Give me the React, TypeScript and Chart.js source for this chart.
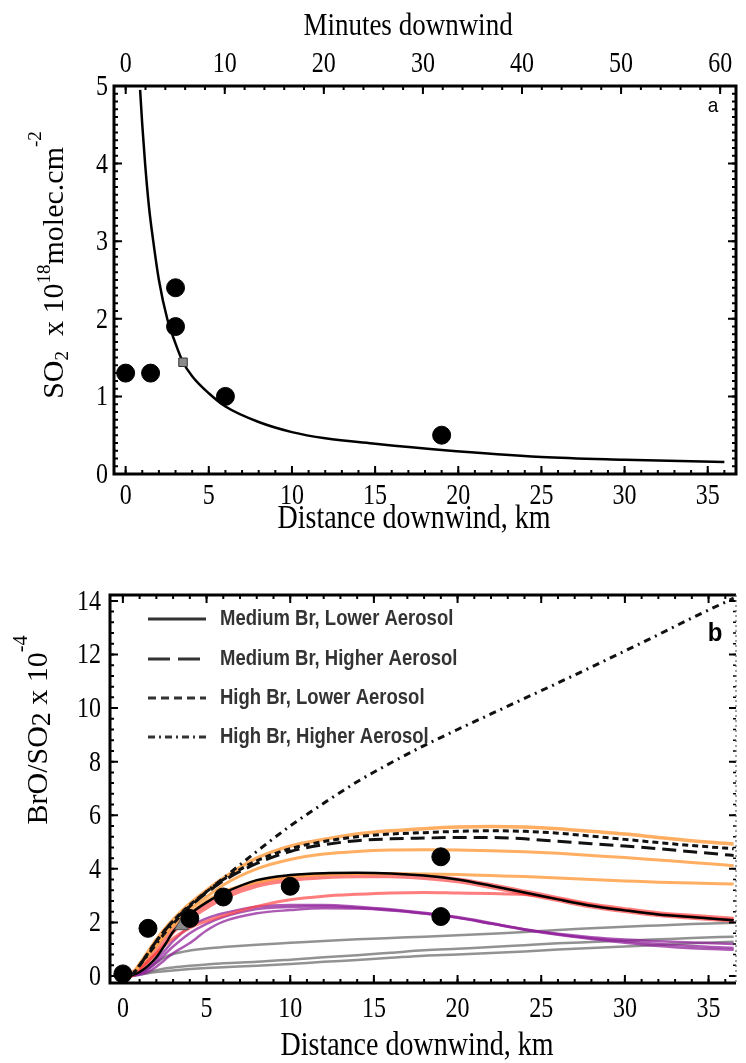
import React, { useEffect, useRef } from "react";
import { Chart, registerables } from "chart.js";

Chart.register(...registerables);

// ================= Panel a data =================
const minutesTicks = [0, 10, 20, 30, 40, 50, 60];
const kmTicks = [0, 5, 10, 15, 20, 25, 30, 35];
const so2Ticks = [0, 1, 2, 3, 4, 5];
const so2ObsKm = [0, 1.5, 3, 3, 6, 19];
const so2ObsVal = [1.3, 1.3, 2.4, 1.9, 1.0, 0.5];
const so2RefKm = [3.45];
const so2RefVal = [1.44];
const so2FitKm = [0.87, 1.0, 1.17, 1.4, 1.66, 2.0, 2.5, 3.0, 3.45, 4, 5, 6, 8, 10, 12, 15, 19, 25, 30, 36];
const so2FitVal = [4.95, 4.5, 4.0, 3.45, 3.0, 2.5, 2.0, 1.68, 1.44, 1.26, 1.04, 0.87, 0.67, 0.54, 0.46, 0.39, 0.31, 0.22, 0.185, 0.155];

// ================= Panel b data =================
const broTicks = [0, 2, 4, 6, 8, 10, 12, 14];
const modelKm = [0, 0.5, 1, 1.5, 2, 2.5, 3, 4, 5, 6, 8, 10, 12, 14, 16, 18, 20, 22, 24, 26, 28, 30, 32, 34, 36.5];
const highBrHighAer = [0, 0.05, 0.4, 0.8, 1.2, 1.6, 1.95, 2.6, 3.15, 3.65, 4.65, 5.6, 6.45, 7.25, 7.95, 8.6, 9.2, 9.78, 10.36, 10.94, 11.53, 12.13, 12.74, 13.36, 14.1];
const highBrLowAer = [0, 0.04, 0.4, 0.85, 1.3, 1.7, 2.05, 2.65, 3.15, 3.6, 4.3, 4.75, 5.02, 5.2, 5.3, 5.35, 5.4, 5.42, 5.4, 5.33, 5.22, 5.1, 4.98, 4.87, 4.75];
const medBrHighAer = [0, 0.04, 0.4, 0.85, 1.3, 1.7, 2.05, 2.6, 3.1, 3.55, 4.2, 4.65, 4.9, 5.05, 5.12, 5.15, 5.17, 5.17, 5.12, 5.03, 4.94, 4.85, 4.75, 4.64, 4.5];
const medBrLowAer = [0, 0.02, 0.15, 0.38, 0.7, 1.15, 1.65, 2.3, 2.75, 3.09, 3.58, 3.77, 3.84, 3.85, 3.83, 3.75, 3.6, 3.37, 3.12, 2.86, 2.62, 2.45, 2.3, 2.2, 2.08];
const orange1 = [0, 0.05, 0.45, 0.9, 1.35, 1.75, 2.1, 2.7, 3.2, 3.65, 4.4, 4.85, 5.1, 5.3, 5.42, 5.5, 5.56, 5.58, 5.56, 5.5, 5.4, 5.3, 5.17, 5.05, 4.93];
const orange2 = [0, 0.04, 0.4, 0.8, 1.2, 1.6, 1.95, 2.5, 2.95, 3.4, 4.0, 4.35, 4.55, 4.65, 4.7, 4.71, 4.7, 4.68, 4.64, 4.58, 4.5, 4.42, 4.33, 4.24, 4.12];
const orange3 = [0, 0.04, 0.38, 0.75, 1.1, 1.5, 1.85, 2.35, 2.8, 3.15, 3.5, 3.7, 3.78, 3.82, 3.82, 3.81, 3.79, 3.75, 3.71, 3.66, 3.6, 3.55, 3.5, 3.47, 3.43];
const red1 = [0, 0.05, 0.3, 0.6, 0.95, 1.35, 1.7, 2.2, 2.6, 2.95, 3.4, 3.62, 3.72, 3.76, 3.76, 3.7, 3.57, 3.36, 3.12, 2.87, 2.63, 2.46, 2.31, 2.21, 2.1];
const red2 = [0, 0.03, 0.25, 0.55, 0.85, 1.15, 1.4, 1.8, 2.05, 2.25, 2.6, 2.85, 2.98, 3.05, 3.1, 3.12, 3.1, 3.08, 3.04, 2.88, 2.64, 2.46, 2.31, 2.21, 2.09];
const purple1 = [0, 0.01, 0.1, 0.3, 0.6, 0.95, 1.3, 1.84, 2.15, 2.34, 2.59, 2.65, 2.65, 2.59, 2.49, 2.36, 2.2, 1.98, 1.75, 1.58, 1.45, 1.36, 1.3, 1.25, 1.2];
const purple2 = [0, 0.01, 0.08, 0.25, 0.5, 0.8, 1.1, 1.6, 1.95, 2.2, 2.5, 2.58, 2.6, 2.55, 2.46, 2.33, 2.18, 1.96, 1.74, 1.56, 1.41, 1.3, 1.2, 1.12, 1.05];
const purple3 = [0, 0.01, 0.05, 0.15, 0.35, 0.6, 0.85, 1.23, 1.7, 2.03, 2.34, 2.46, 2.53, 2.52, 2.45, 2.33, 2.17, 1.95, 1.73, 1.54, 1.38, 1.24, 1.12, 1.04, 0.98];
const gray1 = [0, 0.02, 0.1, 0.25, 0.5, 0.7, 0.82, 0.95, 1.03, 1.08, 1.17, 1.24, 1.31, 1.37, 1.42, 1.47, 1.52, 1.58, 1.64, 1.72, 1.78, 1.84, 1.89, 1.94, 1.99];
const gray2 = [0, 0.02, 0.08, 0.15, 0.22, 0.28, 0.32, 0.38, 0.43, 0.48, 0.53, 0.61, 0.7, 0.78, 0.87, 0.96, 1.02, 1.08, 1.15, 1.22, 1.27, 1.32, 1.37, 1.42, 1.47];
const gray3 = [0, 0.01, 0.05, 0.1, 0.15, 0.18, 0.21, 0.26, 0.3, 0.33, 0.38, 0.45, 0.53, 0.6, 0.68, 0.76, 0.8, 0.86, 0.92, 0.99, 1.05, 1.1, 1.16, 1.22, 1.28];
const broObsKm = [0, 1.5, 4, 6, 10, 19, 19];
const broObsVal = [0.08, 1.78, 2.15, 2.95, 3.35, 4.45, 2.22];
const broRefKm = [3.5];
const broRefVal = [1.88];
const legendLabels = [
  "Medium Br, Lower Aerosol",
  "Medium Br, Higher Aerosol",
  "High Br, Lower Aerosol",
  "High Br, Higher Aerosol",
];

// ================= helpers =================
const SERIF = '"Liberation Serif", "Times New Roman", serif';
const SANS = '"Liberation Sans", Arial, sans-serif';
const TICK_FONT = `24px ${SERIF}`;

const xy = (xs: number[], ys: number[]) => xs.map((x, i) => ({ x, y: ys[i] }));

type Part = { t: string; size: number; dy?: number };

function drawText(ctx: CanvasRenderingContext2D, text: string, x: number, y: number, font: string, align: CanvasTextAlign, sy = 1, color = "#000") {
  ctx.save();
  ctx.translate(x, y);
  ctx.scale(1, sy);
  ctx.font = font;
  ctx.fillStyle = color;
  ctx.textAlign = align;
  ctx.textBaseline = "alphabetic";
  ctx.fillText(text, 0, 0);
  ctx.restore();
}

function drawRich(ctx: CanvasRenderingContext2D, parts: Part[], x: number, y: number, rotate: boolean) {
  ctx.save();
  ctx.translate(x, y);
  if (rotate) ctx.rotate(-Math.PI / 2);
  ctx.fillStyle = "#000";
  ctx.textBaseline = "alphabetic";
  ctx.textAlign = "left";
  let total = 0;
  const widths = parts.map((p) => {
    ctx.font = `${p.size}px ${SERIF}`;
    const w = ctx.measureText(p.t).width;
    total += w;
    return w;
  });
  let cx = -total / 2;
  parts.forEach((p, i) => {
    ctx.font = `${p.size}px ${SERIF}`;
    ctx.fillText(p.t, cx, p.dy || 0);
    cx += widths[i];
  });
  ctx.restore();
}

function xLabels(chart: any, scaleId: string, values: number[], baseline: number) {
  const s = chart.scales[scaleId];
  values.forEach((v) => drawText(chart.ctx, String(v), s.getPixelForValue(v), baseline, TICK_FONT, "center", 1.2));
}

function yLabels(chart: any, scaleId: string, values: number[], right: number) {
  const s = chart.scales[scaleId];
  values.forEach((v) => drawText(chart.ctx, String(v), right, s.getPixelForValue(v) + 9, TICK_FONT, "right", 1.2));
}

function innerTicks(chart: any, scaleId: string, edge: string, from: number, to: number, step: number, len: number, width: number) {
  const ctx: CanvasRenderingContext2D = chart.ctx;
  const s = chart.scales[scaleId];
  const a = chart.chartArea;
  ctx.save();
  ctx.beginPath();
  const n = Math.round((to - from) / step);
  for (let k = 0; k <= n; k++) {
    const v = from + k * step;
    const p = s.getPixelForValue(v);
    if (edge === "bottom" || edge === "top") {
      if (p < a.left + 1 || p > a.right - 1) continue;
      if (edge === "bottom") { ctx.moveTo(p, a.bottom); ctx.lineTo(p, a.bottom - len); }
      else { ctx.moveTo(p, a.top); ctx.lineTo(p, a.top + len); }
    } else {
      if (p < a.top + 1 || p > a.bottom - 1) continue;
      if (edge === "left") { ctx.moveTo(a.left, p); ctx.lineTo(a.left + len, p); }
      else { ctx.moveTo(a.right, p); ctx.lineTo(a.right - len, p); }
    }
  }
  ctx.lineWidth = width;
  ctx.strokeStyle = "#000";
  ctx.stroke();
  ctx.restore();
}

const hiddenTicks = { display: false };

// ================= Panel a chart =================
function configTop(): any {
  const plugin = {
    id: "panelA",
    afterDraw(chart: any) {
      const ctx: CanvasRenderingContext2D = chart.ctx;
      const a = chart.chartArea;
      innerTicks(chart, "x", "bottom", 0, 36, 1, 4, 2);
      innerTicks(chart, "x", "bottom", 0, 35, 5, 8, 2);
      innerTicks(chart, "x2", "top", 0, 60, 2, 4, 2);
      innerTicks(chart, "x2", "top", 0, 60, 10, 8, 2);
      innerTicks(chart, "y", "left", 0, 5, 0.1, 4, 2);
      innerTicks(chart, "y", "left", 0, 5, 1, 8, 2);
      innerTicks(chart, "y", "right", 0, 5, 0.1, 4, 2);
      innerTicks(chart, "y", "right", 0, 5, 1, 8, 2);
      ctx.save();
      ctx.lineWidth = 3;
      ctx.strokeStyle = "#000";
      ctx.strokeRect(a.left, a.top, a.right - a.left, a.bottom - a.top);
      ctx.restore();
      xLabels(chart, "x", kmTicks, 504);
      xLabels(chart, "x2", minutesTicks, 72);
      yLabels(chart, "y", so2Ticks, 108);
      drawText(ctx, "Minutes downwind", 408, 35, `27px ${SERIF}`, "center", 1.2);
      drawText(ctx, "Distance downwind, km", 414, 528, `28px ${SERIF}`, "center", 1.2);
      drawText(ctx, "a", 713, 112, `19px ${SANS}`, "center", 1.1);
      drawRich(ctx, [
        { t: "SO", size: 30 },
        { t: "2", size: 19, dy: 5 },
        { t: "  x 10", size: 30 },
        { t: "18", size: 19, dy: -13 },
        { t: "molec.cm", size: 30 },
        { t: "-2", size: 19, dy: -22 },
      ], 63, 265, true);
    },
  };
  return {
    type: "scatter",
    data: {
      datasets: [
        {
          label: "observed",
          data: xy(so2ObsKm, so2ObsVal),
          pointRadius: 9,
          pointBackgroundColor: "#000",
          pointBorderColor: "#000",
          showLine: false,
          order: 0,
        },
        {
          label: "reference",
          data: xy(so2RefKm, so2RefVal),
          pointStyle: "rect",
          pointRadius: 6,
          pointBackgroundColor: "#8a8a8a",
          pointBorderColor: "#333",
          pointBorderWidth: 1,
          showLine: false,
          order: 1,
        },
        {
          label: "fit",
          data: xy(so2FitKm, so2FitVal),
          showLine: true,
          borderColor: "#000",
          borderWidth: 2.5,
          pointRadius: 0,
          cubicInterpolationMode: "monotone",
          order: 2,
        },
      ],
    },
    options: {
      responsive: false,
      animation: false,
      layout: { padding: { left: 0, right: 3, top: 0, bottom: 0 } },
      plugins: { legend: { display: false }, tooltip: { enabled: false } },
      scales: {
        x: {
          type: "linear",
          position: "bottom",
          min: -0.7,
          max: 36.7,
          afterBuildTicks: (s: any) => { s.ticks = kmTicks.map((v) => ({ value: v })); },
          afterFit: (s: any) => { s.height = 71; },
          grid: { display: false, drawTicks: false },
          border: { display: false },
          ticks: hiddenTicks,
        },
        x2: {
          type: "linear",
          position: "top",
          min: -1.18,
          max: 61.6,
          afterBuildTicks: (s: any) => { s.ticks = minutesTicks.map((v) => ({ value: v })); },
          afterFit: (s: any) => { s.height = 86; },
          grid: { display: false, drawTicks: false },
          border: { display: false },
          ticks: hiddenTicks,
        },
        y: {
          type: "linear",
          min: 0,
          max: 5,
          afterBuildTicks: (s: any) => { s.ticks = so2Ticks.map((v) => ({ value: v })); },
          afterFit: (s: any) => { s.width = 114; },
          grid: { display: false, drawTicks: false },
          border: { display: false },
          ticks: hiddenTicks,
        },
      },
    },
    plugins: [plugin],
  };
}

// ================= Panel b chart =================
const legendDash = [[], [22, 8], [8, 5], [7, 4, 2, 4]];

function configBottom(): any {
  const plugin = {
    id: "panelB",
    afterDraw(chart: any) {
      const ctx: CanvasRenderingContext2D = chart.ctx;
      const a = chart.chartArea;
      innerTicks(chart, "x", "bottom", 0, 36, 1, 4, 2);
      innerTicks(chart, "x", "bottom", 0, 35, 5, 8, 2);
      innerTicks(chart, "x", "top", 0, 36, 1, 4, 2);
      innerTicks(chart, "x", "top", 0, 35, 5, 8, 2);
      innerTicks(chart, "y", "left", 0, 14, 0.4, 4, 2);
      innerTicks(chart, "y", "left", 0, 14, 2, 8, 2);
      innerTicks(chart, "y", "right", 0, 14, 0.4, 3, 1.5);
      innerTicks(chart, "y", "right", 0, 14, 2, 7, 2);
      ctx.save();
      ctx.strokeStyle = "#000";
      ctx.lineWidth = 3;
      ctx.beginPath();
      ctx.moveTo(a.right, a.top);
      ctx.lineTo(a.left, a.top);
      ctx.lineTo(a.left, a.bottom);
      ctx.lineTo(a.right, a.bottom);
      ctx.stroke();
      ctx.lineWidth = 1.2;
      ctx.strokeStyle = "#666";
      ctx.setLineDash([2, 3]);
      ctx.beginPath();
      ctx.moveTo(a.right, a.top);
      ctx.lineTo(a.right, a.bottom);
      ctx.stroke();
      ctx.restore();
      xLabels(chart, "x", kmTicks, 472);
      yLabels(chart, "y", broTicks, 101);
      // legend
      const ly = [74, 114, 153, 192];
      legendLabels.forEach((lab, i) => {
        ctx.save();
        ctx.strokeStyle = "#333";
        ctx.lineWidth = 3;
        ctx.setLineDash(legendDash[i]);
        ctx.beginPath();
        ctx.moveTo(148, ly[i]);
        ctx.lineTo(206, ly[i]);
        ctx.stroke();
        ctx.restore();
        drawText(ctx, lab, 220, ly[i] + 6, `bold 18.5px ${SANS}`, "left", 1.15, "#333");
      });
      drawText(ctx, "b", 715, 96, `bold 24px ${SANS}`, "center", 1.05);
      drawText(ctx, "Distance downwind, km", 417, 510, `28px ${SERIF}`, "center", 1.2);
      drawRich(ctx, [
        { t: "BrO/SO", size: 30 },
        { t: "2", size: 28, dy: 3 },
        { t: " x 10", size: 30 },
        { t: "-4", size: 20, dy: -20 },
      ], 47, 185, true);
    },
  };
  const line = (label: string, vals: number[], color: string, width: number, order: number, dash: number[] = []) => ({
    label,
    data: xy(modelKm, vals),
    showLine: true,
    borderColor: color,
    borderWidth: width,
    borderDash: dash,
    pointRadius: 0,
    cubicInterpolationMode: "monotone",
    order,
  });
  return {
    type: "scatter",
    data: {
      datasets: [
        {
          label: "observed",
          data: xy(broObsKm, broObsVal),
          pointRadius: 9,
          pointBackgroundColor: "#000",
          pointBorderColor: "#000",
          showLine: false,
          order: 0,
        },
        {
          label: "reference",
          data: xy(broRefKm, broRefVal),
          pointStyle: "triangle",
          pointRadius: 8,
          pointBackgroundColor: "#888",
          pointBorderColor: "#555",
          pointBorderWidth: 1,
          showLine: false,
          order: 1,
        },
        line(legendLabels[3], highBrHighAer, "#111", 3, 3, [7, 5, 2, 5]),
        line(legendLabels[2], highBrLowAer, "#111", 3, 4, [6, 4]),
        line(legendLabels[1], medBrHighAer, "#111", 3, 4, [14, 7]),
        line(legendLabels[0], medBrLowAer, "#000", 2.5, 4),
        line("orange 1", orange1, "rgba(255,160,70,0.85)", 3.5, 6),
        line("orange 2", orange2, "rgba(255,160,70,0.85)", 3, 6),
        line("orange 3", orange3, "rgba(255,160,70,0.85)", 3, 6),
        line("red 1", red1, "rgba(255,40,40,0.6)", 6, 7),
        line("red 2", red2, "rgba(255,70,70,0.7)", 3, 7),
        line("purple 1", purple1, "rgba(145,35,155,0.75)", 2.5, 8),
        line("purple 2", purple2, "rgba(145,35,155,0.75)", 2.5, 8),
        line("purple 3", purple3, "rgba(145,35,155,0.75)", 2.5, 8),
        line("gray 1", gray1, "rgba(110,110,110,0.75)", 2.5, 9),
        line("gray 2", gray2, "rgba(110,110,110,0.75)", 2.5, 9),
        line("gray 3", gray3, "rgba(110,110,110,0.75)", 2.5, 9),
      ],
    },
    options: {
      responsive: false,
      animation: false,
      layout: { padding: { left: 0, right: 3, top: 50, bottom: 0 } },
      plugins: { legend: { display: false }, tooltip: { enabled: false } },
      scales: {
        x: {
          type: "linear",
          min: -0.77,
          max: 36.64,
          afterBuildTicks: (s: any) => { s.ticks = kmTicks.map((v) => ({ value: v })); },
          afterFit: (s: any) => { s.height = 80; },
          grid: { display: false, drawTicks: false },
          border: { display: false },
          ticks: hiddenTicks,
        },
        y: {
          type: "linear",
          min: -0.26,
          max: 14.22,
          afterBuildTicks: (s: any) => { s.ticks = broTicks.map((v) => ({ value: v })); },
          afterFit: (s: any) => { s.width = 110; },
          grid: { display: false, drawTicks: false },
          border: { display: false },
          ticks: hiddenTicks,
        },
      },
    },
    plugins: [plugin],
  };
}

export default function App() {
  const topRef = useRef<HTMLCanvasElement>(null);
  const botRef = useRef<HTMLCanvasElement>(null);
  useEffect(() => {
    document.body.style.margin = "0";
    const c1 = new Chart(topRef.current as HTMLCanvasElement, configTop());
    const c2 = new Chart(botRef.current as HTMLCanvasElement, configBottom());
    return () => {
      c1.destroy();
      c2.destroy();
    };
  }, []);
  return (
    <div style={{ position: "relative", width: 746, height: 1063, background: "#fff" }}>
      <canvas ref={topRef} width={746} height={545} style={{ position: "absolute", left: 0, top: 0 }} />
      <canvas ref={botRef} width={746} height={518} style={{ position: "absolute", left: 0, top: 545 }} />
    </div>
  );
}
